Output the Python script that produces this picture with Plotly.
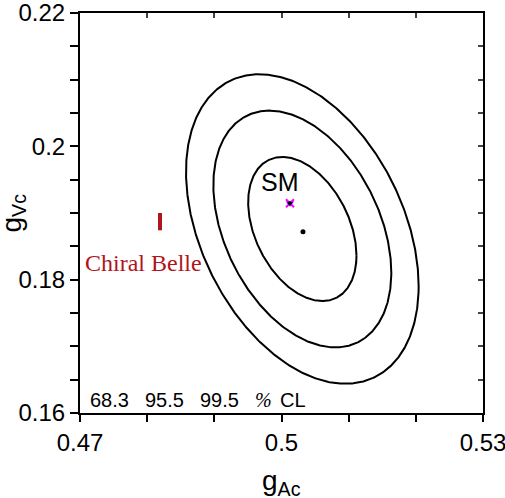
import numpy as np
import plotly.graph_objects as go

# ---- data ----
fit_center = [0.5031, 0.1876]          # centre of the CL ellipses (g_Ac, g_Vc)
fit_sigma = [0.00532, 0.00713]         # 1-sigma widths
fit_rho = -0.37                        # correlation
cl_levels = [68.3, 95.5, 99.5]         # % CL contours
best_fit_x = [0.5032]
best_fit_y = [0.1872]
sm_x = [0.50126]
sm_y = [0.19145]
belle_x = [0.48191, 0.48191]
belle_y = [0.1874, 0.1900]
x_ticks = [0.47, 0.48, 0.49, 0.50, 0.51, 0.52, 0.53]
x_ticktext = ["0.47", "", "", "0.5", "", "", "0.53"]
y_ticks = [0.16, 0.165, 0.17, 0.175, 0.18, 0.185, 0.19, 0.195, 0.20, 0.205, 0.21, 0.215, 0.22]
y_ticktext = ["0.16", "", "", "", "0.18", "", "", "", "0.2", "", "", "", "0.22"]
x_range = [0.47 - 1e-7, 0.53 + 1e-7]
y_range = [0.16 - 1e-7, 0.22 + 1e-7]

BELLE_RED = "#b0141c"
FONT = "Liberation Sans, Arial, sans-serif"

fig = go.Figure()

theta = np.linspace(0, 2 * np.pi, 721)
for cl in cl_levels:
    k = np.sqrt(-2.0 * np.log(1.0 - cl / 100.0))
    ex = fit_center[0] + k * fit_sigma[0] * np.cos(theta)
    ey = fit_center[1] + k * fit_sigma[1] * (fit_rho * np.cos(theta)
                                             + np.sqrt(1 - fit_rho ** 2) * np.sin(theta))
    fig.add_trace(go.Scatter(x=ex, y=ey, mode="lines",
                             line=dict(color="black", width=2),
                             hoverinfo="skip", showlegend=False))

fig.add_trace(go.Scatter(x=best_fit_x, y=best_fit_y, mode="markers",
                         marker=dict(color="black", size=5), showlegend=False))

# SM point: overlapping coloured markers
fig.add_trace(go.Scatter(x=sm_x, y=sm_y, mode="markers",
                         marker=dict(symbol="triangle-down", color="blue", size=7),
                         showlegend=False))
fig.add_trace(go.Scatter(x=sm_x, y=sm_y, mode="markers",
                         marker=dict(symbol="x-thin-open", color="magenta", size=8,
                                     line=dict(width=2, color="magenta")),
                         showlegend=False))
fig.add_trace(go.Scatter(x=sm_x, y=sm_y, mode="markers",
                         marker=dict(symbol="circle", color="black", size=4),
                         showlegend=False))

# Chiral Belle
fig.add_trace(go.Scatter(x=belle_x, y=belle_y, mode="lines",
                         line=dict(color=BELLE_RED, width=4), showlegend=False))

# mirror axes with inward ticks
fig.add_trace(go.Scatter(x=[None], y=[None], xaxis="x2", yaxis="y2", showlegend=False))

axis_common = dict(showgrid=False, zeroline=False, color="black", automargin=False,
                   ticklabeloverflow="allow",
                   tickfont=dict(family=FONT, size=24, color="black"))

fig.update_layout(
    width=505, height=498,
    margin=dict(l=80, r=22, t=13, b=85),
    plot_bgcolor="white", paper_bgcolor="white",
    xaxis=dict(range=x_range, tickvals=x_ticks, ticktext=x_ticktext,
               ticks="outside", ticklen=7, tickwidth=1.5,
               showline=True, linewidth=2, linecolor="black", mirror=True,
               **axis_common),
    yaxis=dict(range=y_range, tickvals=y_ticks, ticktext=y_ticktext,
               ticks="outside", ticklen=8, tickwidth=1.5,
               showline=True, linewidth=2, linecolor="black", mirror=True,
               **axis_common),
    xaxis2=dict(range=x_range, overlaying="x", side="top", tickvals=x_ticks,
                ticks="inside", ticklen=5, tickwidth=1.5, showticklabels=False,
                showline=False, showgrid=False, zeroline=False, automargin=False),
    yaxis2=dict(range=y_range, overlaying="y", side="right", tickvals=y_ticks,
                ticks="inside", ticklen=5, tickwidth=1.5, showticklabels=False,
                showline=False, showgrid=False, zeroline=False, automargin=False),
)

# text
fig.add_annotation(x=sm_x[0], y=sm_y[0], xref="x", yref="y", text="SM",
                   showarrow=False, yshift=21, xshift=-10,
                   font=dict(family=FONT, size=25, color="black"))
fig.add_annotation(x=belle_x[0], y=belle_y[0], xref="x", yref="y", text="Chiral Belle",
                   showarrow=False, yshift=-33, xshift=-17,
                   font=dict(family="Liberation Serif, Times New Roman, serif",
                             size=24, color=BELLE_RED))

cl_text_x = [88, 143, 198, 253, 278]
cl_text = ["68.3", "95.5", "99.5", "<i>%</i>", "CL"]
for tx, tt in zip(cl_text_x, cl_text):
    fig.add_annotation(x=(tx - 80) / 403, y=0, xref="paper", yref="paper",
                       xanchor="left", yanchor="bottom", yshift=0,
                       text=tt, showarrow=False,
                       font=dict(family=FONT if tt != "<i>%</i>" else "Liberation Serif, serif",
                                 size=20, color="black"))

fig.add_annotation(x=0.5, y=0, xref="paper", yref="paper", text="g<sub>Ac</sub>",
                   showarrow=False, yanchor="top", yshift=-50,
                   font=dict(family=FONT, size=28, color="black"))
fig.add_annotation(x=0, y=0.5, xref="paper", yref="paper", text="g<sub>Vc</sub>",
                   showarrow=False, xanchor="right", xshift=-48, textangle=-90,
                   font=dict(family=FONT, size=28, color="black"))

fig.write_html("out.html",
               config={"displayModeBar": False},
               post_script="document.body.style.margin='0px';"
                           "document.body.style.overflow='hidden';")
